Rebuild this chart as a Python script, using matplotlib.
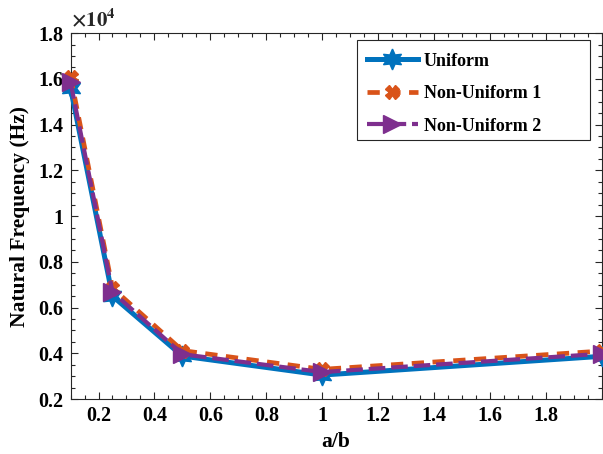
import numpy as np
import matplotlib
matplotlib.use('Agg')
import matplotlib.pyplot as plt
from matplotlib.patches import Rectangle
from matplotlib.ticker import FuncFormatter, MultipleLocator

# aspect ratio a/b and natural frequency (Hz) of the plate for each thickness profile
aspect_ratio = [0.1, 0.25, 0.5, 1.0, 2.0]
freq_uniform = [15600, 6500, 3880, 3050, 3870]
freq_nonuniform1 = [16100, 6850, 4120, 3300, 4100]
freq_nonuniform2 = [15850, 6680, 3960, 3180, 3980]

series_labels = ['Uniform', 'Non-Uniform 1', 'Non-Uniform 2']

plt.rcParams['font.family'] = ['Liberation Serif', 'DejaVu Serif']
plt.rcParams['font.weight'] = 'bold'
plt.rcParams['mathtext.fontset'] = 'stix'

fig = plt.figure(figsize=(6.03, 4.54), dpi=100)
ax = fig.add_axes([0.117, 0.121, 0.881, 0.806])

ax.plot(aspect_ratio, freq_uniform, color='#0072BD', lw=3.6, ls='-',
        marker=(6, 1, 0), ms=15, label=series_labels[0], clip_on=False, zorder=3)
ax.plot(aspect_ratio, freq_nonuniform1, color='#D95319', lw=3.4, ls=(0, (2.6, 1.8)),
        marker='X', ms=10, label=series_labels[1], clip_on=False, zorder=4)
ax.plot(aspect_ratio, freq_nonuniform2, color='#7E2F8E', lw=3.0, ls=(0, (4.0, 1.4)),
        marker='>', ms=13, label=series_labels[2], clip_on=False, zorder=5)

ax.set_xlim(0.1, 2.0)
ax.set_ylim(2000, 18000)
ax.set_xticks(np.arange(0.2, 1.81, 0.2))
ax.xaxis.set_minor_locator(MultipleLocator(0.05))
ax.yaxis.set_major_locator(MultipleLocator(2000))
ax.yaxis.set_minor_locator(MultipleLocator(500))
ax.xaxis.set_major_formatter(FuncFormatter(lambda v, p: f'{v:g}'))
ax.yaxis.set_major_formatter(FuncFormatter(lambda v, p: f'{v / 1e4:g}'))

ax.tick_params(which='both', direction='in', top=True, right=True,
               labelsize=14.5, width=0.8, color='#262626')
ax.tick_params(which='major', length=5, pad=5)
ax.tick_params(which='minor', length=3)
for lbl in ax.get_xticklabels() + ax.get_yticklabels():
    lbl.set_fontweight('bold')
for sp in ax.spines.values():
    sp.set_linewidth(0.8)
    sp.set_color('#262626')

ax.text(0.0, 1.005, r'$\times10^{4}$', transform=ax.transAxes,
        fontsize=15, ha='left', va='bottom', color='#262626')

ax.set_xlabel('a/b', fontsize=15.5, fontweight='bold', labelpad=4)
ax.set_ylabel('Natural Frequency (Hz)', fontsize=15.5, fontweight='bold', labelpad=6)

# legend box drawn separately so it can be wider than the entries
box_x0, box_y0, box_w, box_h = 0.539, 0.708, 0.438, 0.273
ax.add_patch(Rectangle((box_x0, box_y0), box_w, box_h, transform=ax.transAxes,
                       facecolor='white', edgecolor='#262626', lw=0.8, zorder=6))
leg = ax.legend(loc='upper left', bbox_to_anchor=(box_x0 + 0.004, box_y0 + box_h - 0.012),
                borderaxespad=0, fontsize=13, frameon=False,
                handlelength=2.8, borderpad=0.45, labelspacing=0.86, handletextpad=0.35)
leg.set_zorder(7)
for t in leg.get_texts():
    t.set_fontweight('bold')

fig.savefig('out.png', dpi=100)
